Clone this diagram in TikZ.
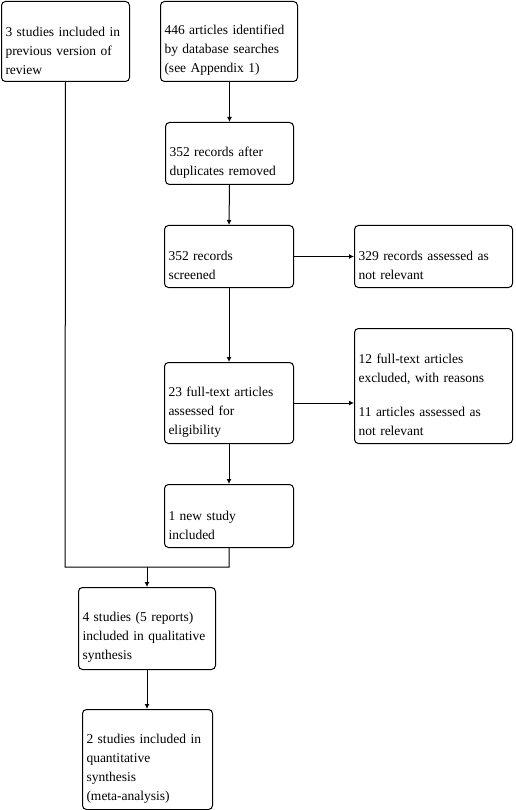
\documentclass[tikz,border=0pt]{standalone}
\usepackage{fontspec}
\setmainfont{Liberation Serif}
\usetikzlibrary{arrows.meta}
\begin{document}
\begin{tikzpicture}[x=1pt,y=-1pt,
  box/.style={draw, rounded corners=4pt, anchor=north west, align=left,
    inner xsep=4pt, inner ysep=0pt, line width=1pt,
    font=\fontsize{13.5}{19}\selectfont,
    execute at begin node={\rule{0pt}{27.5pt}}},
  arr/.style={-{Latex[length=5pt,width=5pt]}, line width=1pt},
  ln/.style={line width=1pt}]
\useasboundingbox (0,0) rectangle (515,810);
\node[box, text width=120pt, minimum height=80pt] (A) at (1,1)
  {3 studies included in\\previous version of\\review};
\node[box, text width=129pt, minimum height=80pt] (B) at (160,1)
  {446 articles identified\\by database searches\\(see Appendix 1)};
\node[box, text width=120pt, minimum height=62pt] (C) at (165,122)
  {352 records after\\duplicates removed};
\node[box, text width=121pt, minimum height=62pt] (D) at (164,225)
  {352 records\\screened};
\node[box, text width=150pt, minimum height=62pt] (E) at (354,225)
  {329 records assessed as\\not relevant};
\node[box, text width=121pt, minimum height=81pt] (F) at (164,362)
  {23 full-text articles\\assessed for\\eligibility};
\node[box, text width=150pt, minimum height=115pt] (G) at (354,328)
  {12 full-text articles\\excluded, with reasons\\[15pt]11 articles assessed as\\not relevant};
\node[box, text width=121pt, minimum height=63pt] (H) at (164,484)
  {1 new study\\included};
\node[box, text width=129pt, minimum height=82pt] (I) at (78,587)
  {4 studies (5 reports)\\included in qualitative\\synthesis};
\node[box, text width=122pt, minimum height=100pt] (J) at (82,709)
  {2 studies included in\\quantitative\\synthesis\\(meta-analysis)};
\draw[arr] (C.north |- B.south) -- (C.north);
\draw[arr] (C.south) -- (D.north);
\draw[arr] (D.east) -- (E.west);
\draw[arr] (D.south) -- (F.north);
\draw[arr] (F.east) -- (F.east -| G.west);
\draw[arr] (F.south) -- (H.north);
\coordinate (m1) at (65,567);
\coordinate (m2) at (147,567);
\draw[ln] (A.south) -- (m1) -- (H.south |- m1) -- (H.south);
\draw[arr] (m2) -- (m2 |- I.north);
\draw[arr] (I.south) -- (I.south |- J.north);
\end{tikzpicture}
\end{document}
